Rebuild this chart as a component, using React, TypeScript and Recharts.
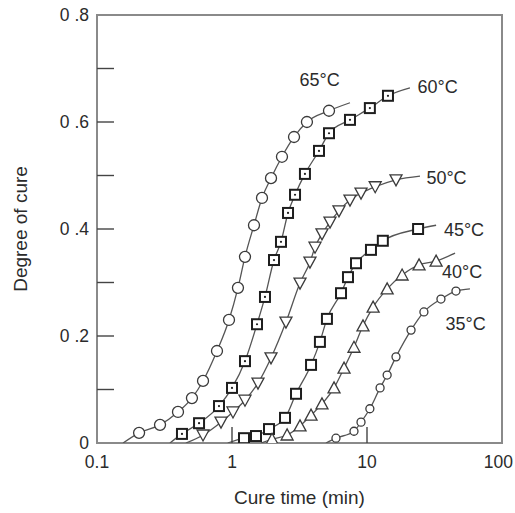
import React from "react";
import {
  ComposedChart, Line, Scatter, XAxis, YAxis, ReferenceArea, ReferenceDot,
} from "recharts";

// cure time (min) and degree of cure
const t65 = [0.205, 0.293, 0.398, 0.505, 0.61, 0.774, 0.95, 1.107, 1.248, 1.455, 1.668, 1.945, 2.345, 2.88, 3.59, 5.23];
const a65 = [0.019, 0.034, 0.058, 0.084, 0.116, 0.172, 0.23, 0.29, 0.348, 0.407, 0.458, 0.495, 0.535, 0.572, 0.6, 0.621];
const ends65 = [[0.156, 0], [7.48, 0.636]];

const t60 = [0.426, 0.57, 0.801, 1.0, 1.248, 1.532, 1.755, 2.047, 2.306, 2.6, 2.93, 3.47, 4.41, 5.23, 7.48, 10.5, 14.3];
const a60 = [0.017, 0.037, 0.069, 0.103, 0.153, 0.222, 0.273, 0.342, 0.376, 0.43, 0.464, 0.503, 0.546, 0.579, 0.604, 0.626, 0.649];
const ends60 = [[0.347, 0], [20.8, 0.664]];

const t50 = [0.61, 0.829, 1.017, 1.248, 1.558, 1.945, 2.51, 3.19, 3.78, 4.12, 4.64, 5.32, 6.2, 7.48, 9.03, 11.5, 16.4];
const a50 = [0.015, 0.039, 0.058, 0.08, 0.112, 0.159, 0.226, 0.299, 0.338, 0.366, 0.391, 0.413, 0.434, 0.454, 0.467, 0.479, 0.492];
const ends50 = [[0.456, 0], [24.7, 0.499]];

const t45 = [1.227, 1.506, 1.88, 2.47, 2.98, 3.85, 4.48, 5.05, 6.42, 7.23, 8.29, 10.7, 13.1, 23.9];
const a45 = [0.009, 0.013, 0.026, 0.047, 0.092, 0.146, 0.189, 0.232, 0.28, 0.31, 0.336, 0.361, 0.378, 0.4];
const ends45 = [[0.93, 0], [32.5, 0.407]];

const t40 = [1.98, 2.56, 3.19, 3.85, 4.64, 5.7, 6.76, 8.01, 9.34, 11.1, 14.1, 18.2, 24.3, 32.5];
const a40 = [0.007, 0.015, 0.032, 0.052, 0.073, 0.103, 0.14, 0.179, 0.219, 0.254, 0.288, 0.314, 0.333, 0.34];
const ends40 = [[1.64, 0], [44.9, 0.355]];

const t35 = [5.89, 8.01, 9.03, 10.5, 12.5, 14.1, 16.4, 21.2, 26.4, 35.3, 45.6];
const a35 = [0.009, 0.022, 0.039, 0.064, 0.103, 0.127, 0.161, 0.211, 0.245, 0.269, 0.284];
const ends35 = [[4.97, 0], [57.9, 0.288]];

const curveLabels = ["65°C", "60°C", "50°C", "45°C", "40°C", "35°C"];
const labelX = [4.45, 33.3, 38.8, 52.3, 50.6, 53.7];
const labelY = [0.68, 0.667, 0.496, 0.399, 0.32, 0.224];

const xTicks = [0.1, 1, 10, 100];
const yTicks = [0, 0.1, 0.2, 0.3, 0.4, 0.5, 0.6, 0.7, 0.8];
const yLabels: Record<string, string> = { "0": "0", "0.2": "0 .2", "0.4": "0 .4", "0.6": "0 .6", "0.8": "0 .8" };

const FONT = "'Liberation Sans', Arial, sans-serif";
const INK = "#2b2b2b";
const CURVE = "#555";

const pts = (t: number[], a: number[]) => t.map((x, i) => ({ x, y: a[i] }));
const curve = (t: number[], a: number[], e: number[][]) => [
  { x: e[0][0], y: e[0][1] },
  ...pts(t, a),
  { x: e[1][0], y: e[1][1] },
];

const openCircle = (r: number) => (p: any) => (
  <circle cx={p.cx} cy={p.cy} r={r} fill="#fff" stroke="#3a3a3a" strokeWidth={1.3} />
);
const square = (dot: boolean) => (p: any) => (
  <g>
    <rect x={p.cx - 5} y={p.cy - 5} width={10} height={10} fill="#fff" stroke="#1e1e1e" strokeWidth={2} />
    {dot && <circle cx={p.cx} cy={p.cy} r={1.1} fill="#1e1e1e" />}
  </g>
);
const triangle = (down: boolean) => (p: any) => {
  const s = down ? 1 : -1;
  return (
    <polygon
      points={`${p.cx - 6},${p.cy - 5 * s} ${p.cx + 6},${p.cy - 5 * s} ${p.cx},${p.cy + 6 * s}`}
      fill="#fff" stroke="#3a3a3a" strokeWidth={1.3}
    />
  );
};

const series = [
  { t: t65, a: a65, e: ends65, shape: openCircle(5.5) },
  { t: t60, a: a60, e: ends60, shape: square(true) },
  { t: t50, a: a50, e: ends50, shape: triangle(true) },
  { t: t45, a: a45, e: ends45, shape: square(false) },
  { t: t40, a: a40, e: ends40, shape: triangle(false) },
  { t: t35, a: a35, e: ends35, shape: openCircle(4) },
];

const YTick = (p: any) => {
  const v = p.payload.value;
  const lbl = yLabels[String(v)];
  const edge = p.x + 8;
  return (
    <g>
      {v > 0 && v < 0.8 && <line x1={edge} x2={edge + 17} y1={p.y} y2={p.y} stroke="#444" strokeWidth={1.4} />}
      {lbl && (
        <text x={p.x} y={p.y + 6} textAnchor="end" fontSize={17.5} fontFamily={FONT} fill={INK}>{lbl}</text>
      )}
    </g>
  );
};

const XTick = (p: any) => {
  const v = p.payload.value;
  const edge = p.y - 10;
  const last = v === 100;
  return (
    <g>
      {v > 0.1 && v < 100 && <line x1={p.x} x2={p.x} y1={edge} y2={edge - 16} stroke="#444" strokeWidth={1.4} />}
      <text
        x={last ? 513 : p.x} y={p.y + 15} textAnchor={last ? "end" : "middle"}
        fontSize={17.5} fontFamily={FONT} fill={INK}
      >
        {String(v)}
      </text>
    </g>
  );
};

export default function App() {
  return (
    <div style={{ position: "absolute", left: 0, top: 0, background: "#fff" }}>
      <ComposedChart width={515} height={513} margin={{ top: 15, right: 13, bottom: 0, left: 0 }}>
        <XAxis
          dataKey="x" type="number" scale="log" domain={[0.1, 100]} ticks={xTicks}
          allowDataOverflow axisLine={false} tickLine={false} tickSize={0} tickMargin={10}
          height={70} tick={<XTick />} interval={0}
          label={{ value: "Cure time (min)", position: "insideBottom", offset: 9, fontSize: 19, fontFamily: FONT, fill: INK }}
        />
        <YAxis
          dataKey="y" type="number" domain={[0, 0.8]} ticks={yTicks} allowDataOverflow
          axisLine={false} tickLine={false} tickSize={0} tickMargin={8} width={97}
          tick={<YTick />} interval={0}
          label={{ value: "Degree of cure", angle: -90, position: "insideLeft", offset: 20, fontSize: 19, fontFamily: FONT, fill: INK, style: { textAnchor: "middle" } }}
        />
        <ReferenceArea x1={0.1} x2={100} y1={0} y2={0.8} fill="none" stroke="#8a8a8a" strokeWidth={2} ifOverflow="visible" />
        {series.map((s, i) => (
          <Line
            key={"l" + i} data={curve(s.t, s.a, s.e)} dataKey="y" type="monotone"
            stroke={CURVE} strokeWidth={1.3} dot={false} activeDot={false} isAnimationActive={false}
          />
        ))}
        {series.map((s, i) => (
          <Scatter key={"s" + i} data={pts(s.t, s.a)} dataKey="y" shape={s.shape} isAnimationActive={false} />
        ))}
        {curveLabels.map((c, i) => (
          <ReferenceDot
            key={c} x={labelX[i]} y={labelY[i]} r={0.01} fill="none" stroke="none" ifOverflow="visible"
            label={{ value: c, position: "center", fontSize: 18, fontFamily: FONT, fill: INK }}
          />
        ))}
      </ComposedChart>
    </div>
  );
}
